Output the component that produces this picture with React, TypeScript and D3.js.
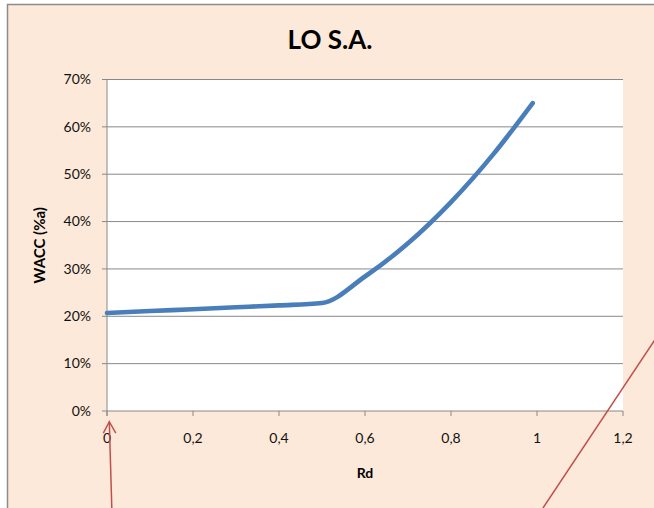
import React from "react";
import * as d3 from "d3";

// Cost of debt (Rd) and the resulting WACC, in percent
const rdValues = [0, 0.1, 0.2, 0.3, 0.4, 0.5, 0.6, 0.7, 0.8, 0.9, 0.99];
const waccValues = [20.7, 21.1, 21.5, 21.9, 22.3, 22.8, 28.4, 35.4, 44.1, 54.4, 65.0];

const xTicks = [0, 0.2, 0.4, 0.6, 0.8, 1, 1.2];
const yTicks = [0, 10, 20, 30, 40, 50, 60, 70];

const title = "LO S.A.";
const xTitle = "Rd";
const yTitle = "WACC (%a)";

const W = 654;
const H = 508;
const plot = { left: 107, right: 623, top: 79.5, bottom: 411 };
const FONT = "Lato, 'Open Sans', sans-serif";

const gridColor = "#898989";
const lineColor = "#4A7EBB";
const noteColor = "#C0504D";

export default function App() {
  const x = d3.scaleLinear().domain([0, 1.2]).range([plot.left, plot.right]);
  const y = d3.scaleLinear().domain([0, 70]).range([plot.bottom, plot.top]);

  const points: [number, number][] = rdValues.map((r, i) => [r, waccValues[i]]);
  const line = d3
    .line<[number, number]>()
    .x((d) => x(d[0]))
    .y((d) => y(d[1]))
    .curve(d3.curveMonotoneX);

  const fmtX = (v: number) => String(v).replace(".", ",");

  // Callout arrow pointing at the origin of the Rd axis
  const tipX = x(0) + 2.3;
  const tipY = plot.bottom + 10.7;

  return (
    <svg
      width={W}
      height={H}
      style={{ position: "absolute", left: 0, top: 0, display: "block" }}
      fontFamily={FONT}
    >
      <rect x={0} y={0} width={W} height={H} fill="#ffffff" />
      {/* chart area */}
      <rect x={7.5} y={4.5} width={W + 20} height={H + 20} fill="#FDE9D9" stroke="#8C8C8C" strokeWidth={1.5} />
      {/* plot area */}
      <rect
        x={plot.left}
        y={plot.top}
        width={plot.right - plot.left}
        height={plot.bottom - plot.top}
        fill="#ffffff"
      />

      {/* horizontal gridlines and y ticks */}
      {yTicks.map((t) => (
        <g key={t}>
          <line x1={plot.left - 5} x2={plot.right} y1={y(t)} y2={y(t)} stroke={gridColor} strokeWidth={1} />
          <text x={91} y={y(t) + 4.8} textAnchor="end" fontSize={14} fill="#111">
            {t}%
          </text>
        </g>
      ))}

      {/* axes */}
      <line x1={plot.left} x2={plot.left} y1={plot.top} y2={plot.bottom + 5} stroke={gridColor} strokeWidth={1} />
      {xTicks.map((t) => (
        <g key={t}>
          <line x1={x(t)} x2={x(t)} y1={plot.bottom} y2={plot.bottom + 5} stroke={gridColor} strokeWidth={1} />
          <text x={x(t)} y={443} textAnchor="middle" fontSize={14} fill="#111">
            {fmtX(t)}
          </text>
        </g>
      ))}

      {/* WACC curve */}
      <path
        d={line(points) || ""}
        fill="none"
        stroke={lineColor}
        strokeWidth={4.6}
        strokeLinecap="round"
        strokeLinejoin="round"
      />

      {/* titles */}
      <text x={(plot.left + plot.right) / 2 - 35} y={49} textAnchor="middle" fontSize={26} fontWeight="bold" fill="#000">
        {title}
      </text>
      <text x={(plot.left + plot.right) / 2} y={478} textAnchor="middle" fontSize={14} fontWeight="bold" fill="#000">
        {xTitle}
      </text>
      <text
        transform={`translate(45, ${(plot.top + plot.bottom) / 2}) rotate(-90)`}
        textAnchor="middle"
        fontSize={15}
        fontWeight="bold"
        fill="#000"
      >
        {yTitle}
      </text>

      {/* callouts */}
      <g stroke={noteColor} strokeWidth={1.5} fill="none">
        <line x1={tipX + 2.5} y1={H} x2={tipX} y2={tipY} />
        <polyline points={`${tipX - 6},${tipY + 11.5} ${tipX},${tipY} ${tipX + 6.5},${tipY + 11.5}`} />
        <line x1={543} y1={H} x2={660} y2={H - 176} />
      </g>
    </svg>
  );
}
